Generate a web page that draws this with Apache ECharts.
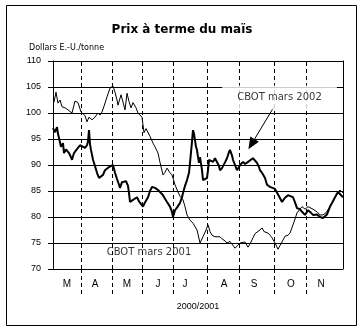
<!DOCTYPE html>
<html>
<head>
<meta charset="utf-8">
<script src="https://cdn.jsdelivr.net/npm/echarts@6/dist/echarts.min.js"></script>
<style>
  html, body { margin: 0; padding: 0; background: #fff; }
  #chart { width: 364px; height: 332px; }
</style>
</head>
<body>
<div id="chart"></div>
<script>
// Texts
const titleText = 'Prix à terme du maïs';
const unitText = 'Dollars E.-U./tonne';
const periodText = '2000/2001';
const label2002 = 'CBOT mars 2002';
const label2001 = 'CBOT mars 2001';

// Price scale (dollars per tonne)
const yTicks = [70, 75, 80, 85, 90, 95, 100, 105, 110];

// Time scale: day index from the start of March, month boundaries and month letters
const dayRange = [0, 290];
const monthStarts = [28, 59, 89, 120, 154, 186, 221, 253];
const monthCentres = [14, 42, 74, 105, 132, 171, 201, 238, 268];
const monthLetters = ['M', 'A', 'M', 'J', 'J', 'A', 'S', 'O', 'N'];

// CBOT March 2001 contract: [day, price]
const mars2001 = [
  [1, 102.1], [3, 104.0], [5, 101.9], [7, 102.5], [9, 101.2], [12, 101.0], [15, 100.6],
  [19, 100.0], [22, 102.3], [25, 102.0], [28, 100.2], [30, 100.0], [32, 99.5], [34, 98.3],
  [36, 99.2], [39, 98.7], [42, 99.2], [45, 100.0], [47, 99.6], [49, 100.2], [51, 101.3],
  [54, 103.1], [57, 104.8], [60, 105.2], [62, 104.0], [64, 102.5], [65, 101.5], [68, 103.5],
  [70, 102.1], [72, 100.6], [74, 103.8], [76, 102.2], [78, 101.0], [80, 102.0], [83, 101.0],
  [85, 100.0], [89, 99.2], [91, 96.2], [93, 97.0], [95, 96.7], [97, 95.5], [100, 94.2],
  [102, 93.5], [105, 92.3], [107, 90.5], [110, 88.1], [112, 88.6], [114, 89.4], [117, 88.5],
  [119, 88.1], [122, 86.2], [125, 84.8], [127, 84.0], [130, 83.3], [132, 82.0], [134, 80.4],
  [137, 79.4], [140, 78.8], [144, 77.5], [147, 75.0], [150, 76.2], [153, 77.5], [155, 78.5],
  [157, 77.2], [159, 76.5], [162, 76.2], [164, 76.0], [167, 76.2], [169, 75.8], [172, 75.4],
  [174, 75.0], [177, 75.3], [179, 75.0], [182, 74.0], [185, 74.6], [187, 75.0], [189, 75.2],
  [192, 75.2], [195, 74.2], [197, 74.8], [200, 76.0], [202, 76.8], [204, 77.1], [207, 77.5],
  [209, 77.9], [211, 77.2], [212, 76.9], [215, 76.9], [217, 76.5], [219, 76.0], [222, 75.0],
  [225, 73.8], [227, 74.5], [229, 75.2], [232, 76.3], [235, 76.5], [237, 76.9], [240, 78.5],
  [242, 79.6], [244, 80.8], [247, 81.5], [249, 82.0], [252, 81.5], [255, 82.0], [257, 82.0],
  [260, 81.5], [264, 81.0], [267, 80.4], [270, 80.4], [273, 80.8], [277, 82.0], [280, 83.0],
  [284, 84.6], [287, 85.2], [290, 84.6]
];

// CBOT March 2002 contract: [day, price]
const mars2002 = [
  [0, 97.1], [2, 96.3], [4, 97.3], [5, 96.0], [6, 95.8], [8, 93.5], [10, 94.2], [11, 92.3],
  [13, 93.0], [14, 93.1], [16, 92.3], [18, 91.5], [19, 91.0], [21, 92.3], [23, 92.8],
  [24, 93.1], [27, 93.8], [29, 93.5], [32, 93.3], [34, 93.8], [35, 94.5], [36, 96.7],
  [37, 94.0], [38, 92.9], [40, 91.0], [42, 89.8], [44, 88.5], [46, 87.5], [48, 87.8],
  [50, 88.1], [52, 89.0], [54, 89.3], [56, 89.6], [58, 89.8], [60, 90.0], [62, 88.5],
  [64, 87.3], [66, 86.2], [67, 85.6], [69, 86.7], [71, 86.8], [73, 86.9], [75, 86.0],
  [76, 84.6], [77, 82.9], [80, 83.3], [82, 83.6], [84, 83.8], [86, 83.0], [87, 82.7],
  [90, 82.0], [92, 82.8], [95, 83.8], [97, 85.0], [99, 85.8], [102, 85.6], [105, 85.2],
  [107, 84.8], [110, 84.2], [112, 83.5], [114, 82.9], [117, 82.0], [119, 81.0], [120, 80.0],
  [122, 81.3], [124, 81.8], [127, 82.7], [129, 83.8], [130, 84.6], [132, 86.0], [134, 87.1],
  [136, 88.5], [137, 90.4], [139, 94.5], [140, 96.7], [141, 96.0], [142, 94.8], [143, 93.5],
  [144, 92.9], [145, 91.5], [146, 90.4], [147, 91.5], [149, 89.0], [150, 87.1], [152, 87.3],
  [154, 87.5], [155, 89.0], [156, 91.0], [158, 90.8], [160, 90.6], [162, 91.3], [164, 91.0],
  [166, 89.8], [167, 89.0], [169, 89.4], [170, 89.6], [172, 90.5], [174, 91.3], [176, 92.5],
  [177, 92.9], [179, 91.8], [180, 91.0], [182, 90.0], [184, 89.0], [186, 89.6], [187, 90.0],
  [189, 90.3], [190, 90.6], [192, 90.2], [195, 90.6], [197, 90.8], [200, 91.3], [202, 91.0],
  [204, 90.4], [206, 89.6], [207, 89.0], [209, 88.5], [210, 88.7], [212, 87.5], [214, 86.2],
  [217, 85.8], [219, 85.6], [222, 85.4], [224, 85.2], [226, 84.0], [229, 82.9], [232, 83.7],
  [235, 84.2], [237, 84.2], [240, 83.8], [242, 82.8], [244, 81.7], [247, 81.5], [249, 81.0],
  [252, 80.4], [255, 81.3], [258, 80.8], [260, 80.4], [264, 80.5], [267, 80.0], [270, 79.8],
  [272, 79.8], [274, 80.5], [275, 81.0], [277, 82.0], [279, 82.7], [282, 83.8], [285, 84.8],
  [287, 84.5], [290, 83.8]
];

const BLACK = '#000';
const FONT = 'Liberation Sans';

const chart = echarts.init(document.getElementById('chart'), null, { renderer: 'canvas' });

chart.setOption({
  animation: false,
  backgroundColor: '#fff',
  title: [
    {
      text: titleText, left: 'center', top: 19,
      textStyle: { fontFamily: 'DejaVu Sans', fontSize: 12, fontWeight: 'bold', color: BLACK }
    },
    {
      text: unitText, left: 24, top: 39,
      textStyle: { fontFamily: 'DejaVu Sans', fontSize: 8, fontWeight: 'normal', color: BLACK }
    }
  ],
  graphic: [
    {
      type: 'rect', z: 0,
      shape: { x: 6.5, y: 5.5, width: 350, height: 320 },
      style: { fill: null, stroke: BLACK, lineWidth: 1 }
    }
  ],
  grid: { left: 53, right: 21, top: 61, bottom: 63, containLabel: false },
  xAxis: {
    type: 'value',
    min: dayRange[0], max: dayRange[1],
    name: periodText,
    nameLocation: 'middle',
    nameGap: 33,
    nameTextStyle: { fontFamily: FONT, fontSize: 9, color: BLACK },
    axisLine: { show: true, lineStyle: { color: BLACK, width: 1, type: [1, 1] } },
    axisTick: {
      show: true, customValues: monthStarts, length: 28, inside: false,
      lineStyle: { color: BLACK, width: 1, type: [4, 3] }
    },
    axisLabel: {
      show: true, customValues: monthCentres, margin: 10,
      fontFamily: FONT, fontSize: 10, color: BLACK,
      formatter: (v) => monthLetters[monthCentres.indexOf(v)] || ''
    },
    splitLine: { show: false }
  },
  yAxis: [
    {
      type: 'value',
      min: yTicks[0], max: yTicks[yTicks.length - 1], interval: yTicks[1] - yTicks[0],
      axisLine: { show: true, lineStyle: { color: BLACK, width: 1 } },
      axisTick: { show: true, length: 5, inside: false, lineStyle: { color: BLACK } },
      axisLabel: { margin: 12, fontFamily: FONT, fontSize: 9, color: BLACK },
      splitLine: { show: true, lineStyle: { color: BLACK, width: 1, type: 'solid' } }
    },
    {
      type: 'value', position: 'right',
      min: yTicks[0], max: yTicks[yTicks.length - 1], interval: yTicks[1] - yTicks[0],
      axisLine: { show: true, lineStyle: { color: BLACK, width: 1 } },
      axisTick: { show: false }, axisLabel: { show: false }, splitLine: { show: false }
    }
  ],
  series: [
    {
      name: label2001,
      type: 'line',
      data: mars2001,
      showSymbol: false,
      z: 3,
      lineStyle: { color: BLACK, width: 1 },
      markLine: {
        silent: true, symbol: 'none', z: 1,
        label: { show: false },
        lineStyle: { color: BLACK, width: 1, type: [4, 3] },
        data: monthStarts.map((d) => ({ xAxis: d }))
      }
    },
    {
      name: label2002,
      type: 'line',
      data: mars2002,
      showSymbol: false,
      z: 4,
      lineStyle: { color: BLACK, width: 2 },
      markLine: {
        silent: true, z: 6,
        symbol: ['none', 'triangle'],
        symbolSize: [10, 12],
        label: { show: false },
        lineStyle: { color: BLACK, width: 1, type: 'solid' },
        data: [[{ coord: [221, 101.2] }, { coord: [198.5, 94.0] }]]
      }
    },
    {
      name: 'label-2002',
      type: 'scatter',
      z: 10,
      symbolSize: 0,
      silent: true,
      data: [[226.5, 103.0]],
      label: {
        show: true, position: 'inside',
        formatter: label2002,
        fontFamily: 'DejaVu Sans', fontSize: 10, color: BLACK,
        backgroundColor: '#fff',
        padding: [7, 15]
      }
    },
    {
      name: 'label-2001',
      type: 'scatter',
      z: 10,
      symbolSize: 0,
      silent: true,
      data: [[96, 73.1]],
      label: {
        show: true, position: 'inside',
        formatter: label2001,
        fontFamily: 'DejaVu Sans', fontSize: 10, color: BLACK
      }
    }
  ]
});
</script>
</body>
</html>
